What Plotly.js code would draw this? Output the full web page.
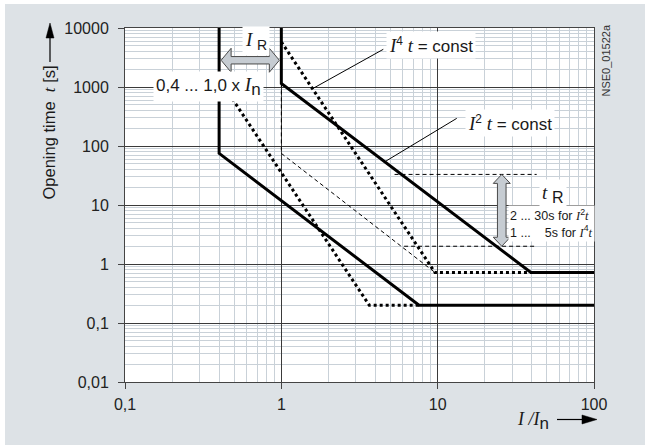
<!DOCTYPE html>
<html><head><meta charset="utf-8">
<script src="https://cdn.plot.ly/plotly-3.0.1.min.js"></script>
<style>html,body{margin:0;padding:0;background:#fff;overflow:hidden}
#chart{position:absolute;left:5px;top:4px;width:640px;height:441px}</style>
</head><body><div id="chart"></div>
<script>
// ---- data (I/In, t in s) ----
const curveA_I = [0.4, 0.4, 7.6, 100];
const curveA_t = [10000, 75, 0.2, 0.2];
const curveB_I = [1, 1, 39.5, 100];
const curveB_t = [10000, 1150, 0.72, 0.72];
const curveC_I = [0.4, 3.65, 7.6];
const curveC_t = [1370, 0.2, 0.2];
const curveD_I = [1, 9.6, 39.5];
const curveD_t = [5800, 0.72, 0.72];
const thinI2t_I = [1, 1, 9.6];
const thinI2t_t = [1150, 75, 0.72];
const tRmax_I = [5.3, 43];
const tRmax_t = [33, 33];
const tRmin_I = [6.1, 43];
const tRmin_t = [2, 2];
const xTickVals = [0.1, 1, 10, 100];
const xTickText = ['0,1', '1', '10', '100'];
const yTickVals = [0.01, 0.1, 1, 10, 100, 1000, 10000];
const yTickText = ['0,01', '0,1', '1', '10', '100', '1000', '10000'];

// ---- helpers ----
function minorVals(d0, d1) { const v = []; for (let d = d0; d < d1; d++) for (let k = 2; k <= 9; k++) v.push(k * Math.pow(10, d)); return v; }
// page-pixel -> paper conversion (plot area 125..594 x 28..382 in page px)
const L = 125, R = 594, T = 28, B = 382;
const fx = p => (p - L) / (R - L);
const fy = p => (B - p) / (B - T);
const pxI = I => L + (Math.log10(I) + 1) / 3 * (R - L);
const pyT = t => T + (4 - Math.log10(t)) / 6 * (B - T);
function pathOf(pts) { return 'M' + pts.map(p => fx(p[0]).toFixed(5) + ',' + fy(p[1]).toFixed(5)).join('L') + 'Z'; }

const SERIF = 'font-family:Liberation Serif;font-style:italic';
const it = (s, size) => '<span style="' + SERIF + (size ? ';font-size:' + size + 'px' : '') + '">' + s + '</span>';

const traces = [
  {x: curveA_I, y: curveA_t, mode: 'lines', line: {color: '#000', width: 3}},
  {x: curveB_I, y: curveB_t, mode: 'lines', line: {color: '#000', width: 3}},
  {x: curveC_I, y: curveC_t, mode: 'lines', line: {color: '#000', width: 3, dash: '3px,3px'}},
  {x: curveD_I, y: curveD_t, mode: 'lines', line: {color: '#000', width: 3, dash: '3px,3px'}},
  {x: thinI2t_I, y: thinI2t_t, mode: 'lines', line: {color: '#000', width: 1, dash: '4px,3px'}},
  {x: tRmax_I, y: tRmax_t, mode: 'lines', line: {color: '#000', width: 1, dash: '4px,3px'}},
  {x: tRmin_I, y: tRmin_t, mode: 'lines', line: {color: '#000', width: 1, dash: '4px,3px'}}
];

// gray double arrows
const ay = pyT(2840), ax1 = pxI(0.4) + 2, ax2 = pxI(1) - 2;
const irArrow = pathOf([[ax1, ay], [ax1 + 10, ay - 12], [ax1 + 10, ay - 3.7], [ax2 - 10, ay - 3.7], [ax2 - 10, ay - 12], [ax2, ay],
  [ax2 - 10, ay + 12], [ax2 - 10, ay + 3.7], [ax1 + 10, ay + 3.7], [ax1 + 10, ay + 12]]);
const bx = pxI(25.7), by1 = pyT(33), by2 = pyT(2);
const trArrow = pathOf([[bx, by1], [bx + 8.5, by1 + 9], [bx + 4.3, by1 + 9], [bx + 4.3, by2 - 9], [bx + 8.5, by2 - 9], [bx, by2],
  [bx - 8.5, by2 - 9], [bx - 4.3, by2 - 9], [bx - 4.3, by1 + 9], [bx - 8.5, by1 + 9]]);

const shapes = [
  {type: 'path', xref: 'paper', yref: 'paper', path: irArrow, fillcolor: '#c6ccd2', line: {color: '#4a4a4a', width: 1}, layer: 'above'},
  {type: 'path', xref: 'paper', yref: 'paper', path: trArrow, fillcolor: '#c6ccd2', line: {color: '#4a4a4a', width: 1}, layer: 'above'},
  // leader lines
  {type: 'line', xref: 'x', yref: 'y', x0: 1.6, y0: 951, x1: 4.49, y1: 4355, line: {color: '#000', width: 1}, layer: 'above'},
  {type: 'line', xref: 'x', yref: 'y', x0: 4.6, y0: 54.2, x1: 13.24, y1: 294, line: {color: '#000', width: 1}, layer: 'above'},
  // axis-title arrows
  {type: 'line', xref: 'paper', yref: 'paper', x0: fx(50), y0: fy(62), x1: fx(50), y1: fy(36), line: {color: '#000', width: 1.2}},
  {type: 'path', xref: 'paper', yref: 'paper', path: pathOf([[50, 23], [54, 38], [46, 38]]), fillcolor: '#000', line: {color: '#000', width: 0.5}},
  {type: 'line', xref: 'paper', yref: 'paper', x0: fx(557), y0: fy(419.5), x1: fx(584), y1: fy(419.5), line: {color: '#000', width: 1.2}},
  {type: 'path', xref: 'paper', yref: 'paper', path: pathOf([[597, 419.5], [582, 415], [582, 424]]), fillcolor: '#000', line: {color: '#000', width: 0.5}}
];

const A = (px, py, text, o) => Object.assign({xref: 'paper', yref: 'paper', x: fx(px), y: fy(py), text: text, showarrow: false,
  xanchor: 'center', yanchor: 'middle', font: {family: 'Liberation Sans', size: 17, color: '#1a1a1a'}}, o || {});
const box = {bgcolor: '#ffffff', borderpad: 2};

const annotations = [
  A(255.5, 41, it('I', 19) + ' <sub><span style="font-size:14px">R</span></sub>', box),
  A(208.5, 87, '0,4 ... 1,0 x ' + it('I', 19) + '<sub><span style="font-size:17px">n</span></sub>', box),
  A(430.5, 44.5, it('I', 19) + '<sup>4</sup> ' + it('t', 19) + ' = const', box),
  A(510, 123, it('I', 19) + '<sup>2</sup> ' + it('t', 19) + ' = const', box),
  A(553, 194, it('t', 19) + ' <sub><span style="font-size:16px">R</span></sub>', box),
  A(508, 223.4, '2 ... 30s for ' + it('I') + '<sup>2</sup>' + it('t') + '<br>1 ...\u00a0\u00a0\u00a0 5s for ' + it('I') + '<sup>4</sup>' + it('t'),
    {xanchor: 'left', align: 'left', bgcolor: '#ffffff', borderpad: 1, font: {family: 'Liberation Sans', size: 12.5, color: '#1a1a1a'}}),
  A(49, 132.5, 'Opening time\u00a0 ' + it('t', 17) + ' [s]', {textangle: -90, font: {family: 'Liberation Sans', size: 16.5, color: '#1a1a1a'}}),
  A(532.5, 421, it('I /I', 18) + '<sub><span style="font-size:17px">n</span></sub>'),
  A(605.5, 61, 'NSE0_01522a', {textangle: -90, font: {family: 'Liberation Sans', size: 11, color: '#333'}})
];

const axisCommon = {
  type: 'log', tickmode: 'array', ticks: 'outside', ticklen: 6, tickcolor: '#444', tickwidth: 1,
  showgrid: true, gridcolor: '#3a3a3a', gridwidth: 1, showline: true, linecolor: '#444', linewidth: 1, mirror: true,
  zeroline: false, fixedrange: true, tickfont: {family: 'Liberation Sans', size: 16, color: '#222'}
};
const layout = {
  width: 640, height: 441,
  margin: {l: 120, r: 51, t: 24, b: 63},
  paper_bgcolor: '#dde2e6', plot_bgcolor: '#ffffff', showlegend: false,
  xaxis: Object.assign({}, axisCommon, {range: [-1, 2], tickvals: xTickVals, ticktext: xTickText, ticklabelstandoff: 2,
    minor: {tickvals: minorVals(-1, 2), showgrid: true, gridcolor: '#c9d1d8', gridwidth: 1, ticks: ''}}),
  yaxis: Object.assign({}, axisCommon, {range: [-2, 4], tickvals: yTickVals, ticktext: yTickText, ticklabelstandoff: 6,
    minor: {tickvals: minorVals(-2, 4), showgrid: true, gridcolor: '#c9d1d8', gridwidth: 1, ticks: ''}}),
  shapes: shapes, annotations: annotations
};
Plotly.newPlot('chart', traces, layout, {staticPlot: true, displayModeBar: false});
</script></body></html>
